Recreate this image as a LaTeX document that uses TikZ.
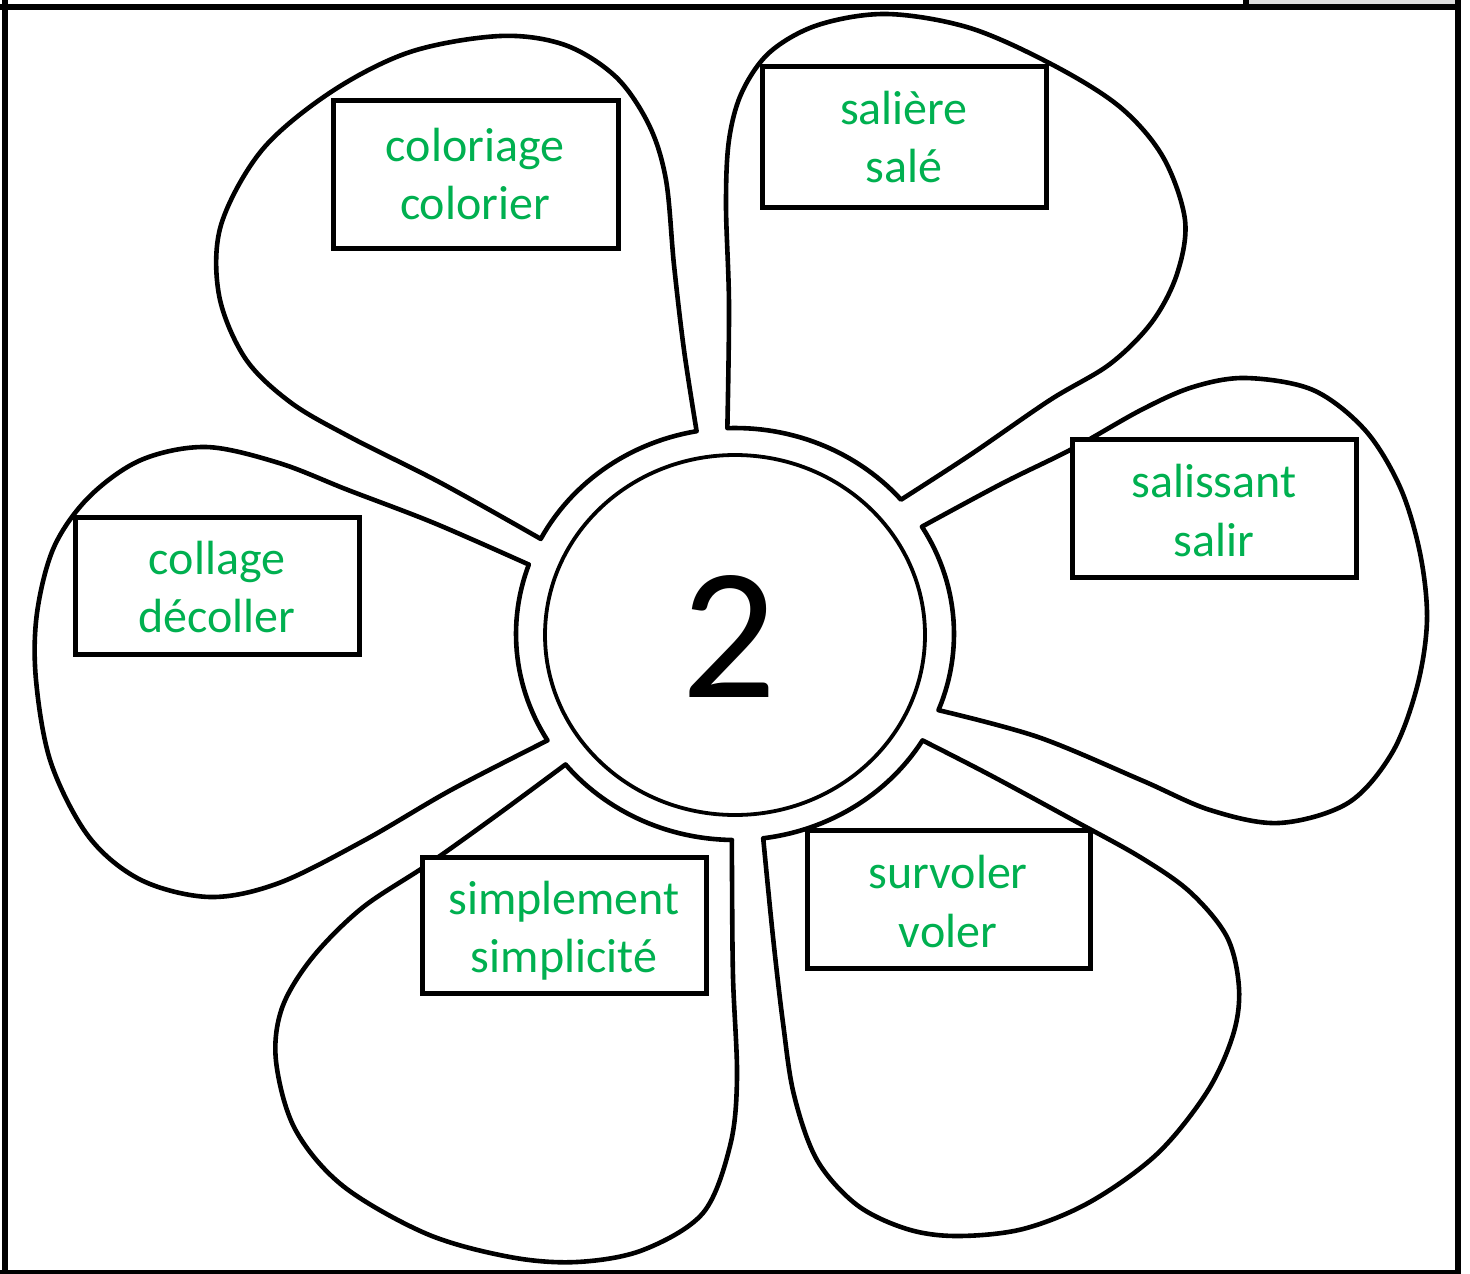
\documentclass[tikz,border=0pt]{standalone}
\usepackage{fontspec}
\setmainfont{Carlito}
\usetikzlibrary{shapes.geometric}
\definecolor{wordgreen}{HTML}{00B050}
\definecolor{tabgray}{HTML}{DCDCDC}
\begin{document}
\begin{tikzpicture}[x=1pt,y=-1pt,
  petal/.style={draw=black, line width=4.6pt, fill=white, line join=round},
  ring/.style={draw=black, line width=3.8pt, fill=white},
  wordbox/.style={draw=black, line width=5pt, fill=white, rectangle, inner sep=0pt},
  word/.style={text=wordgreen, font=\fontsize{48}{57}\selectfont, inner sep=0pt, anchor=base},
  frameline/.style={draw=black, line width=5.6pt}]
\useasboundingbox (0,0) rectangle (1470,1274);
\fill[white] (0,0) rectangle (1470,1274);

% corners on the outer ring (centre 735,634; radii 219, 206)
\path (735,634) ++(207.5:219 and 206) coordinate (tlA);
\path (735,634) ++(259.9:219 and 206) coordinate (tlB);
\path (735,634) ++(268.0:219 and 206) coordinate (trA);
\path (735,634) ++(319.3:219 and 206) coordinate (trB);
\path (735,634) ++(328.6:219 and 206) coordinate (rA);
\path (735,634) ++(381.7:219 and 206) coordinate (rB);
\path (735,634) ++(31.1:219 and 206) coordinate (brA);
\path (735,634) ++(82.6:219 and 206) coordinate (brB);
\path (735,634) ++(90.8:219 and 206) coordinate (blA);
\path (735,634) ++(140.7:219 and 206) coordinate (blB);
\path (735,634) ++(148.9:219 and 206) coordinate (lA);
\path (735,634) ++(199.7:219 and 206) coordinate (lB);

% top-left petal
\draw[petal] plot[smooth, tension=0.55] coordinates {(tlA) (441,483) (350,437) (290,402) (245,358) (219,295) (221,225) (262,150) (331,92) (410,52) (500,36) (565,45) (616,77) (649,125) (666,180) (674,265) (684,350) (tlB)}
  -- plot[domain=0:1, samples=30, variable=\t] ({735+219*cos(259.9+(207.5-259.9)*\t)},{634+206*sin(259.9+(207.5-259.9)*\t)}) -- cycle;
% top-right petal
\draw[petal] plot[smooth, tension=0.55] coordinates {(trA) (729,305) (726,205) (729,140) (742,92) (770,52) (818,25) (887,14) (970,28) (1053,65) (1120,107) (1163,157) (1185,220) (1177,274) (1152,322) (1110,364) (1050,400) (970,455) (trB)}
  -- plot[domain=0:1, samples=30, variable=\t] ({735+219*cos(319.3+(268.0-319.3)*\t)},{634+206*sin(319.3+(268.0-319.3)*\t)}) -- cycle;
% right petal
\draw[petal] plot[smooth, tension=0.55] coordinates {(rA) (1003,483) (1072,449) (1141,410) (1193,387) (1246,378) (1313,390) (1365,430) (1400,487) (1420,553) (1427,620) (1417,687) (1392,753) (1348,803) (1279,823) (1210,810) (1141,780) (1038,737) (rB)}
  -- plot[domain=0:1, samples=30, variable=\t] ({735+219*cos(381.7+(328.6-381.7)*\t)},{634+206*sin(381.7+(328.6-381.7)*\t)}) -- cycle;
% bottom-right petal
\draw[petal] plot[smooth, tension=0.55] coordinates {(brA) (990,775) (1073,820) (1140,857) (1190,892) (1227,937) (1239,988) (1233,1035) (1207,1092) (1157,1154) (1090,1202) (1023,1229) (957,1236) (907,1229) (857,1205) (817,1160) (794,1095) (783,1023) (773,937) (brB)}
  -- plot[domain=0:1, samples=30, variable=\t] ({735+219*cos(82.6+(31.1-82.6)*\t)},{634+206*sin(82.6+(31.1-82.6)*\t)}) -- cycle;
% bottom-left petal
\draw[petal] plot[smooth, tension=0.55] coordinates {(blA) (732,875) (733,977) (737,1078) (730,1146) (703,1213) (643,1250) (577,1262) (510,1257) (427,1234) (343,1186) (295,1129) (276,1061) (282,1008) (312,958) (362,908) (427,865) (493,818) (blB)}
  -- plot[domain=0:1, samples=30, variable=\t] ({735+219*cos(140.7+(90.8-140.7)*\t)},{634+206*sin(140.7+(90.8-140.7)*\t)}) -- cycle;
% left petal
\draw[petal] plot[smooth, tension=0.55] coordinates {(lA) (451,790) (365,840) (279,883) (210,897) (141,880) (89,837) (51,763) (36,680) (37,613) (54,547) (89,497) (141,460) (206,447) (279,463) (348,490) (434,523) (lB)}
  -- plot[domain=0:1, samples=30, variable=\t] ({735+219*cos(199.7+(148.9-199.7)*\t)},{634+206*sin(199.7+(148.9-199.7)*\t)}) -- cycle;

% heart of the flower
\node[ring, ellipse, minimum width=380pt, minimum height=360pt, inner sep=0pt] (heart) at (735,635) {};
\node[font=\fontsize{188}{195}\selectfont, anchor=base, inner sep=0pt] (num) at (729,697) {2};

% word boxes
\node[wordbox, minimum width=285pt, minimum height=148pt] (b1) at (475.5,174) {};
\node[wordbox, minimum width=284pt, minimum height=141pt] (b2) at (904,136.5) {};
\node[wordbox, minimum width=284pt, minimum height=138pt] (b3) at (1214,508) {};
\node[wordbox, minimum width=284pt, minimum height=137pt] (b4) at (217,585.5) {};
\node[wordbox, minimum width=284pt, minimum height=136pt] (b5) at (564,925) {};
\node[wordbox, minimum width=283pt, minimum height=138pt] (b6) at (948.5,899) {};

\node[word] (w1a) at (475,161) {coloriage};
\node[word] (w1b) at (475,219) {colorier};
\node[word] (w2a) at (904,124) {salière};
\node[word] (w2b) at (904,182) {salé};
\node[word] (w3a) at (1214,497) {salissant};
\node[word] (w3b) at (1214,556) {salir};
\node[word] (w4a) at (217,574) {collage};
\node[word] (w4b) at (217,632) {décoller};
\node[word] (w5a) at (564,914) {simplement};
\node[word] (w5b) at (564,972) {simplicité};
\node[word] (w6a) at (948,888) {survoler};
\node[word] (w6b) at (948,947) {voler};

% page frame
\fill[tabgray] (1249,0) rectangle (1455,4);
\fill[black] (1243,0) rectangle (1249,9);
\draw[frameline] (0,6.8) -- (1461,6.8);
\draw[frameline] (4.7,0) -- (4.7,1274);
\draw[frameline] (1458,0) -- (1458,1274);
\draw[frameline] (0,1272.6) -- (1461,1272.6);
\end{tikzpicture}
\end{document}
